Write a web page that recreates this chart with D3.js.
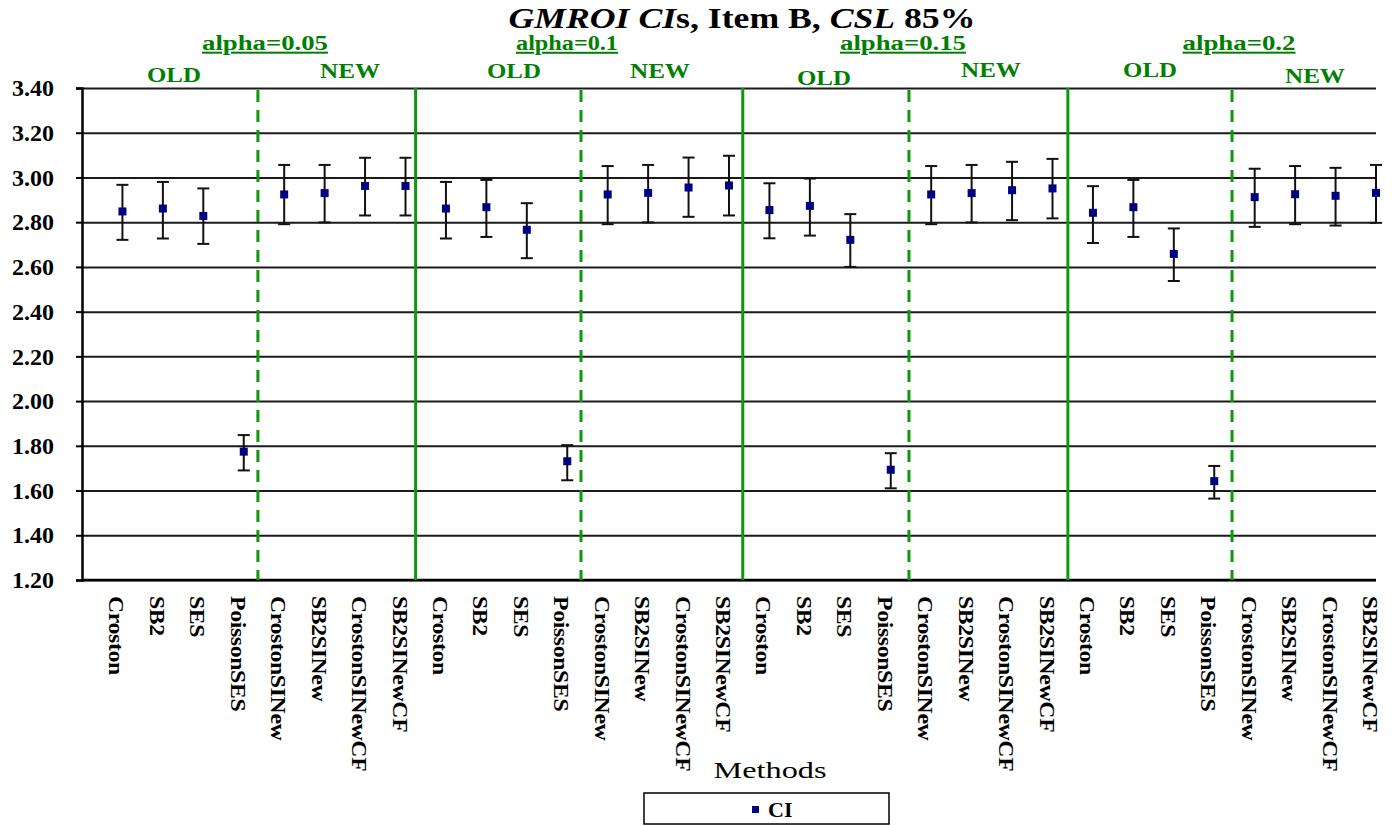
<!DOCTYPE html>
<html>
<head>
<meta charset="utf-8">
<script src="https://d3js.org/d3.v7.min.js"></script>
<style>
  body { margin: 0; background: #fff; }
  text { font-family: "Liberation Serif", "Times New Roman", serif; }
</style>
</head>
<body>
<div id="chart"></div>
<script>
const W = 1392, H = 826;

// methods repeated for each alpha block
const methods = ["Croston", "SB2", "SES", "PoissonSES", "CrostonSINew", "SB2SINew", "CrostonSINewCF", "SB2SINewCF"];
const alphas = ["alpha=0.05", "alpha=0.1", "alpha=0.15", "alpha=0.2"];

// CI mid point, upper and lower bound (4 blocks of 8)
const ciMid = [2.848, 2.861, 2.828, 1.774, 2.924, 2.930, 2.962, 2.962,
               2.861, 2.867, 2.766, 1.731, 2.924, 2.931, 2.955, 2.964,
               2.854, 2.873, 2.721, 1.693, 2.924, 2.930, 2.943, 2.951,
               2.842, 2.867, 2.658, 1.642, 2.912, 2.925, 2.918, 2.931];
const ciHigh = [2.967, 2.980, 2.951, 1.848, 3.056, 3.056, 3.088, 3.088,
                2.980, 2.989, 2.885, 1.803, 3.051, 3.056, 3.089, 3.097,
                2.974, 2.995, 2.836, 1.767, 3.051, 3.056, 3.070, 3.083,
                2.961, 2.989, 2.772, 1.710, 3.039, 3.051, 3.043, 3.056];
const ciLow = [2.721, 2.727, 2.703, 1.690, 2.791, 2.799, 2.830, 2.830,
               2.727, 2.734, 2.639, 1.646, 2.791, 2.799, 2.824, 2.830,
               2.728, 2.740, 2.600, 1.610, 2.791, 2.799, 2.809, 2.817,
               2.707, 2.734, 2.537, 1.564, 2.779, 2.791, 2.785, 2.797];

const yTicks = [1.2, 1.4, 1.6, 1.8, 2.0, 2.2, 2.4, 2.6, 2.8, 3.0, 3.2, 3.4];

// divider lines, in category units
const dashedAt = [4.35, 12.34, 20.45, 28.44];
const solidAt = [8.25, 16.34, 24.38];

const oldNew = ["OLD", "NEW", "OLD", "NEW", "OLD", "NEW", "OLD", "NEW"];

const margin = {left: 82, top: 88, right: 16, bottom: 246};
const plotH = H - margin.top - margin.bottom;

const svg = d3.select("#chart").append("svg")
  .attr("width", W).attr("height", H);

const x = d3.scaleLinear().domain([0, 32]).range([margin.left, margin.left + 1294]);
const y = d3.scaleLinear().domain([1.2, 3.4]).range([margin.top + plotH, margin.top]);

const GREEN_TXT = "#008000", GREEN_LN = "#0c9a0c";

// stretch a text element horizontally to a given width, around its centre
function fitW(sel, w) {
  const bb = sel.node().getBBox();
  const cx = bb.x + bb.width / 2;
  sel.attr("transform", `translate(${cx},0) scale(${w / bb.width},1) translate(${-cx},0)`);
}

// gridlines
svg.append("g")
  .attr("transform", `translate(${margin.left},0)`)
  .call(d3.axisLeft(y).tickValues(yTicks).tickSize(-(x(32) - margin.left)).tickFormat(""))
  .call(g => g.select(".domain").remove())
  .call(g => g.selectAll("line").attr("stroke", "#1a1a1a").attr("stroke-width", 2));

// y axis
svg.append("g")
  .attr("transform", `translate(${margin.left},0)`)
  .call(d3.axisLeft(y).tickValues(yTicks).tickSize(6).tickPadding(22).tickFormat(d3.format(".2f")))
  .call(g => g.select(".domain").attr("stroke", "#000").attr("stroke-width", 2.5))
  .call(g => g.selectAll("line").attr("stroke", "#000").attr("stroke-width", 2))
  .call(g => g.selectAll("text")
    .attr("font-weight", "bold").attr("font-size", 24).attr("fill", "#000"));

// x axis line
svg.append("line")
  .attr("x1", margin.left).attr("x2", x(32))
  .attr("y1", y(1.2)).attr("y2", y(1.2))
  .attr("stroke", "#000").attr("stroke-width", 2.5);

// dividers
svg.selectAll(".solid").data(solidAt).join("line")
  .attr("x1", d => x(d)).attr("x2", d => x(d))
  .attr("y1", y(3.4)).attr("y2", y(1.2))
  .attr("stroke", GREEN_LN).attr("stroke-width", 3);
svg.selectAll(".dashed").data(dashedAt).join("line")
  .attr("x1", d => x(d)).attr("x2", d => x(d))
  .attr("y1", y(3.4) + 2).attr("y2", y(1.2))
  .attr("stroke", GREEN_LN).attr("stroke-width", 3)
  .attr("stroke-dasharray", "12,8");

// error bars
const pts = ciMid.map((v, i) => ({i: i + 1, mid: v, lo: ciLow[i], hi: ciHigh[i]}));
const eb = svg.append("g").selectAll("g").data(pts).join("g");
eb.append("line")
  .attr("x1", d => x(d.i)).attr("x2", d => x(d.i))
  .attr("y1", d => y(d.hi)).attr("y2", d => y(d.lo))
  .attr("stroke", "#111").attr("stroke-width", 2);
eb.append("line")
  .attr("x1", d => x(d.i) - 6).attr("x2", d => x(d.i) + 6)
  .attr("y1", d => y(d.hi)).attr("y2", d => y(d.hi))
  .attr("stroke", "#111").attr("stroke-width", 2);
eb.append("line")
  .attr("x1", d => x(d.i) - 6).attr("x2", d => x(d.i) + 6)
  .attr("y1", d => y(d.lo)).attr("y2", d => y(d.lo))
  .attr("stroke", "#111").attr("stroke-width", 2);
eb.append("rect")
  .attr("x", d => x(d.i) - 4).attr("y", d => y(d.mid) - 4)
  .attr("width", 8).attr("height", 8)
  .attr("fill", "#000080");

// category labels (rotated)
const labels = d3.range(32).map(i => ({i: i + 1, t: methods[i % 8]}));
svg.append("g").selectAll("text").data(labels).join("text")
  .attr("transform", d => `translate(${x(d.i) - 13},596) rotate(90) scale(1.13,1)`)
  .attr("font-weight", "bold").attr("font-size", 21)
  .attr("letter-spacing", -0.3)
  .text(d => d.t);

// title
const title = svg.append("text")
  .attr("x", 742).attr("y", 28)
  .attr("text-anchor", "middle")
  .attr("font-weight", "bold").attr("font-size", 30);
title.append("tspan").attr("font-style", "italic").text("GMROI CI");
title.append("tspan").text("s, Item B, ");
title.append("tspan").attr("font-style", "italic").text("CSL");
title.append("tspan").text(" 85%");
fitW(title, 467);

// alpha headings
const alphaX = [265, 567, 903, 1239];
const alphaW = [126, 102, 126, 113];
alphas.forEach((a, k) => {
  const t = svg.append("text")
    .attr("x", alphaX[k]).attr("y", 50)
    .attr("text-anchor", "middle")
    .attr("font-weight", "bold").attr("font-size", 20)
    .attr("fill", GREEN_TXT)
    .attr("text-decoration", "underline")
    .text(a);
  fitW(t, alphaW[k]);
});

// OLD / NEW headings
const onX = [174, 350, 514, 660, 824, 991, 1150, 1315];
const onY = [82, 78, 78, 78, 85, 77, 77, 83];
oldNew.forEach((s, k) => {
  const t = svg.append("text")
    .attr("x", onX[k]).attr("y", onY[k])
    .attr("text-anchor", "middle")
    .attr("font-weight", "bold").attr("font-size", 21)
    .attr("fill", GREEN_TXT)
    .text(s);
  fitW(t, s === "OLD" ? 54 : 60);
});

// x axis title
const xt = svg.append("text")
  .attr("x", 770).attr("y", 778)
  .attr("text-anchor", "middle")
  .attr("font-size", 24)
  .text("Methods");
fitW(xt, 113);

// legend
svg.append("rect")
  .attr("x", 644).attr("y", 793).attr("width", 245).attr("height", 31)
  .attr("fill", "#fff").attr("stroke", "#000").attr("stroke-width", 1.5);
svg.append("rect")
  .attr("x", 752).attr("y", 806).attr("width", 7).attr("height", 7)
  .attr("fill", "#000080");
svg.append("text")
  .attr("x", 768).attr("y", 817)
  .attr("font-weight", "bold").attr("font-size", 22)
  .text("CI");
</script>
</body>
</html>
